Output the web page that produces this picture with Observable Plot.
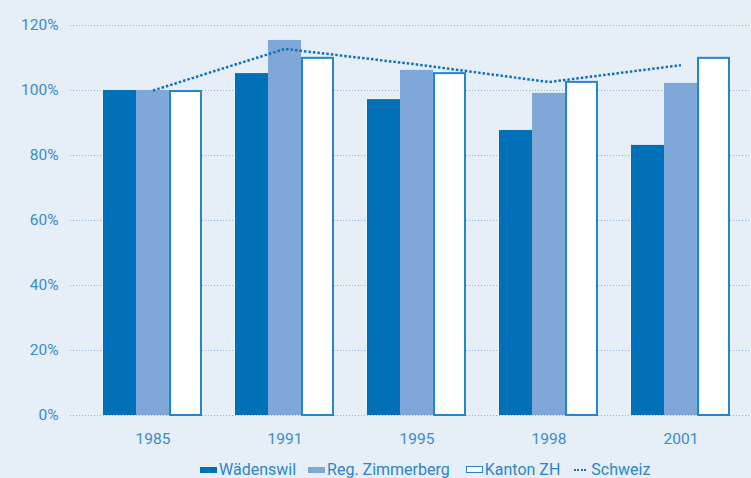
<!DOCTYPE html>
<html><head><meta charset="utf-8">
<script src="https://cdn.jsdelivr.net/npm/d3@7"></script>
<script src="https://cdn.jsdelivr.net/npm/@observablehq/plot@0.6"></script>
<style>
html,body{margin:0;padding:0;background:#e6eef8;overflow:hidden;}
#chart{width:751px;height:478px;position:relative;font-family:Roboto,"DejaVu Sans",sans-serif;}
.legend{position:absolute;left:200px;top:460px;display:flex;font-size:16px;color:#2c86c8;white-space:nowrap;}
.legend .item{display:flex;align-items:center;}
.sw{display:inline-block;width:17px;height:6px;margin-right:2px;}
</style></head>
<body><div id="chart"></div>
<script>
const years = ["1985","1991","1995","1998","2001"];
const waedenswil = [100, 105.2, 97.2, 87.7, 83.1];
const zimmerberg = [100, 115.4, 106.2, 99.1, 102.2];
const kantonZH = [100, 110.2, 105.5, 102.8, 110.2];
const schweiz = [100, 112.8, 108.0, 102.6, 107.8];
const yTicks = [0, 20, 40, 60, 80, 100, 120];
const seriesNames = ["Wädenswil", "Reg. Zimmerberg", "Kanton ZH", "Schweiz"];
const colors = {w:"#0070b9", r:"#7fa8d9", k:"#ffffff", kStroke:"#2587cb", line:"#0d72ba", grid:"#93b6df", text:"#3a8ccc"};

const rows = (vals) => years.map((y,i)=>({year:y, value:vals[i]}));

const plot = Plot.plot({
  width: 751, height: 455,
  marginLeft: 70, marginRight: 0, marginTop: 20, marginBottom: 40,
  style: {background:"transparent", fontFamily:"Roboto, 'DejaVu Sans', sans-serif", fontSize:"15px", color: colors.text, overflow:"visible"},
  x: {domain: years, range: [103, 730], paddingInner: 0.25, paddingOuter: 0, label: null, tickSize: 0},
  y: {domain: [0, 120], range: [415, 25], label: null},
  marks: [
    Plot.ruleY(yTicks, {stroke: colors.grid, strokeDasharray: "1,2", strokeWidth: 1}),
    Plot.barY(rows(waedenswil), {x:"year", y:"value", fill: colors.w, insetRight: 66}),
    Plot.barY(rows(zimmerberg), {x:"year", y:"value", fill: colors.r, insetLeft: 33, insetRight: 33}),
    Plot.barY(rows(kantonZH), {x:"year", y:"value", fill: colors.k, stroke: colors.kStroke, strokeWidth: 2, insetLeft: 67, insetRight: 1, insetTop: 1}),
    Plot.lineY(rows(schweiz), {x:"year", y:"value", stroke: colors.line, strokeWidth: 2.5, strokeDasharray: "2.5,2", strokeLinecap: "butt", curve: "linear"}),
    Plot.axisY(yTicks, {tickSize: 0, tickPadding: 12, tickFormat: d => d + "%", fill: colors.text, fontSize: 15.5}),
    Plot.axisX({tickSize: 0, tickPadding: 17, fill: colors.text, fontSize: 15.5})
  ]
});
const chart = document.getElementById("chart");
chart.appendChild(plot);

const legend = document.createElement("div");
legend.className = "legend";
const swatchStyles = [
  `background:${colors.w}`,
  `background:${colors.r}`,
  `background:#fff;border:1.5px solid ${colors.kStroke};box-sizing:border-box;height:7px`,
  `background:none;border-top:2.5px dotted ${colors.line};height:0;width:12px;margin-right:5px`
];
const itemMargins = [12, 16, 14, 0];
seriesNames.forEach((n,i)=>{
  const it = document.createElement("div");
  it.className = "item";
  it.style.marginRight = itemMargins[i] + "px";
  it.innerHTML = `<span class="sw" style="${swatchStyles[i]}"></span><span>${n}</span>`;
  legend.appendChild(it);
});
chart.appendChild(legend);
</script></body></html>
